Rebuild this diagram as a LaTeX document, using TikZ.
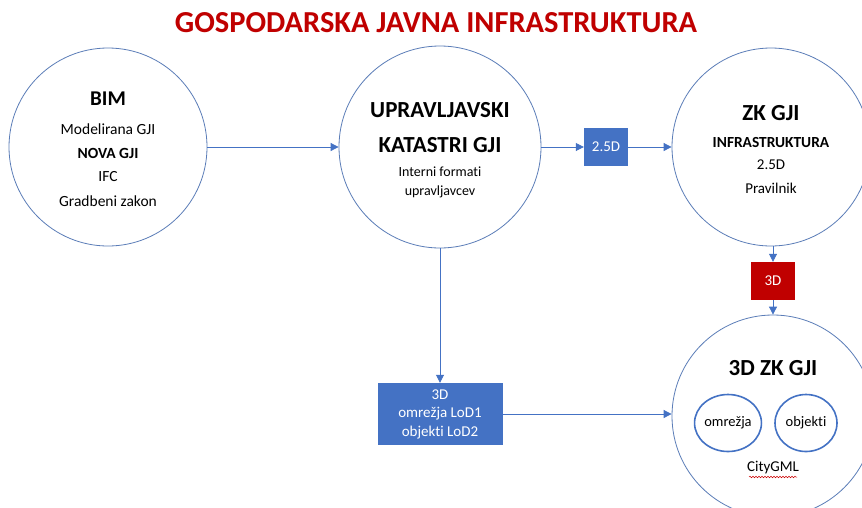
\documentclass[tikz,border=0pt]{standalone}
\usepackage{fontspec}
\setmainfont[Ligatures=NoCommon]{Carlito}
\usetikzlibrary{arrows.meta,shapes.geometric,decorations.pathmorphing}
\definecolor{accent}{HTML}{4472C4}
\definecolor{ring}{HTML}{5B7DB8}
\definecolor{titlered}{HTML}{C00000}
\begin{document}
\begin{tikzpicture}[x=1pt,y=-1pt,
  bigcircle/.style={circle,draw=ring,line width=0.8pt,minimum size=#1,inner sep=0pt,align=center},
  smallring/.style={ellipse,draw=accent,line width=1.6pt,inner sep=0pt,font=\fontsize{14.5}{16}\selectfont},
  bluebox/.style={fill=accent,text=white,inner sep=0pt,align=center,font=\fontsize{15}{18.5}\selectfont},
  redbox/.style={fill=titlered,text=white,inner sep=0pt,font=\fontsize{15}{17}\selectfont},
  link/.style={draw=accent,line width=0.8pt,-{Triangle[length=8pt,width=8pt]}},
  txt/.style={inner sep=0pt,align=center,font=\fontsize{15}{17}\selectfont},
  head/.style={inner sep=0pt,align=center,font=\fontsize{23}{25}\selectfont\bfseries}]
\useasboundingbox (0,0) rectangle (862,507);
\fill[white] (0,0) rectangle (862,507);

% title
\node[inner sep=0pt,text=titlered,font=\fontsize{30.5}{33}\selectfont\bfseries] (title) at (436,23) {GOSPODARSKA JAVNA INFRASTRUKTURA};

% main circles
\node[bigcircle=198pt] (bim) at (108,147) {};
\node[bigcircle=202pt] (upr) at (440,147) {};
\node[bigcircle=198pt] (zk) at (771,147) {};
\node[bigcircle=202pt] (zk3d) at (773,416) {};

% BIM texts
\node[head,font=\fontsize{21}{23}\selectfont\bfseries] (bimT) at (108,99) {BIM};
\node[txt,font=\fontsize{15.5}{17}\selectfont] (bim1) at (108,129) {Modelirana GJI};
\node[txt,font=\fontsize{15.5}{17}\selectfont\bfseries] (bim2) at (108,153) {NOVA GJI};
\node[txt,font=\fontsize{15.5}{17}\selectfont] (bim3) at (108,177) {IFC};
\node[txt,font=\fontsize{15.5}{17}\selectfont] (bim4) at (108,201) {Gradbeni zakon};

% cadastre texts
\node[head] (uprT1) at (440,110) {UPRAVLJAVSKI};
\node[head] (uprT2) at (440,145) {KATASTRI GJI};
\node[txt,font=\fontsize{14}{16}\selectfont] (upr1) at (440,172) {Interni formati};
\node[txt,font=\fontsize{14}{16}\selectfont] (upr2) at (440,192) {upravljavcev};

% ZK GJI texts
\node[head] (zkT) at (771,113) {ZK GJI};
\node[txt,font=\fontsize{15.4}{17}\selectfont\bfseries] (zk1) at (771,143) {INFRASTRUKTURA};
\node[txt] (zk2) at (771,165) {2.5D};
\node[txt] (zk3) at (771,188) {Pravilnik};

% 3D ZK GJI contents
\node[head] (zk3dT) at (773,368) {3D ZK GJI};
\node[smallring,minimum width=66pt,minimum height=57pt] (omr) at (728,423) {omrežja};
\node[smallring,minimum width=62pt,minimum height=57pt] (obj) at (806,423) {objekti};
\node[txt,font=\fontsize{15}{17}\selectfont] (city) at (773,468) {CityGML};
\coordinate (wavyA) at (749,477);
\coordinate (wavyB) at (797,477);
\draw[red!80!black,line width=0.5pt,decorate,decoration={snake,amplitude=0.8pt,segment length=3pt}] (wavyA) -- (wavyB);

% boxes
\node[bluebox,minimum width=44pt,minimum height=38pt] (b25) at (606,147) {2.5D};
\node[redbox,minimum width=44pt,minimum height=38pt] (b3d) at (773,281) {3D};
\node[bluebox,minimum width=125pt,minimum height=62pt] (lod) at (440,414) {3D\\omrežja LoD1\\objekti LoD2};

% connectors
\draw[link] (bim) -- (upr);
\draw[link] (upr) -- (b25);
\draw[link] (b25) -- (zk);
\draw[link] (zk.south -| b3d) -- (b3d);
\draw[link] (b3d) -- (zk3d);
\draw[link] (upr) -- (lod);
\draw[link] (lod) -- (lod -| zk3d.west);
\end{tikzpicture}
\end{document}
